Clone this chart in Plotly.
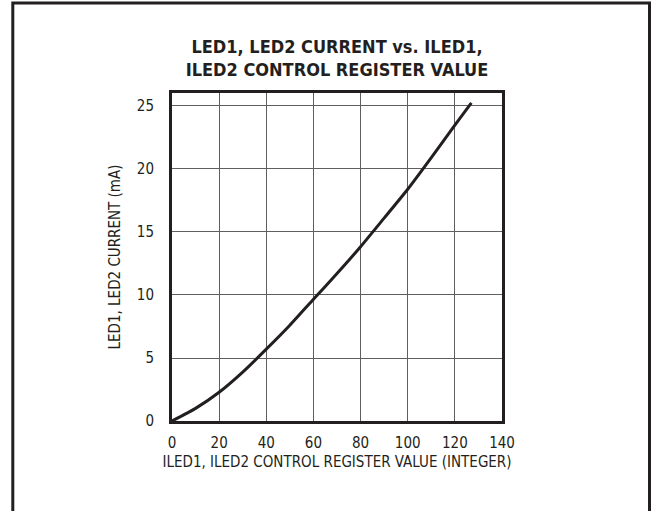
import plotly.graph_objects as go

# Data
register_value = [0, 10, 20, 30, 40, 50, 60, 70, 80, 90, 100, 110, 120, 127]
led_current_ma = [0, 1.0, 2.28, 3.88, 5.7, 7.6, 9.66, 11.7, 13.83, 16.1, 18.39, 20.9, 23.49, 25.25]

x_ticks = [0, 20, 40, 60, 80, 100, 120, 140]
y_ticks = [0, 5, 10, 15, 20, 25]

title_text = "<b>LED1, LED2 CURRENT vs. ILED1,<br>ILED2 CONTROL REGISTER VALUE</b>"
x_title = "ILED1, ILED2 CONTROL REGISTER VALUE (INTEGER)"
y_title = "LED1, LED2 CURRENT (mA)"

INK = "#231f20"
FONT = "DejaVu Sans Condensed, Liberation Sans Narrow, Arial Narrow, Roboto, sans-serif"

W, H = 651, 511
L, T = 172, 93
pw, ph = 330, 328
R, B = W - L - pw, H - T - ph

def px_x(p):
    return (p - L) / pw

def px_y(p):
    return (T + ph - p) / ph

fig = go.Figure()
fig.add_trace(go.Scatter(
    x=register_value, y=led_current_ma, mode="lines",
    line=dict(color=INK, width=3, shape="spline", smoothing=0.6),
    showlegend=False, hoverinfo="skip",
))

fig.update_layout(
    width=W, height=H,
    margin=dict(l=L, r=R, t=T, b=B),
    paper_bgcolor="white", plot_bgcolor="white",
    font=dict(family=FONT, color=INK, size=15),
    title=dict(text=title_text, x=0.5, xref="paper", xanchor="center",
               y=1 - 53 / H, yref="container", yanchor="middle",
               font=dict(family=FONT, size=18, color=INK)),
    xaxis=dict(range=[0, 140], tickvals=x_ticks, ticktext=[str(v) for v in x_ticks],
               showgrid=True, gridcolor="#5f5f5f", gridwidth=1,
               showline=True, linecolor=INK, linewidth=3, mirror=True,
               zeroline=False, ticks="", ticklabelstandoff=6,
               title=dict(text=x_title, font=dict(size=15, family=FONT, color=INK), standoff=6),
               fixedrange=True),
    yaxis=dict(range=[0, 26.03], tickvals=y_ticks, ticktext=[str(v) for v in y_ticks],
               showgrid=True, gridcolor="#5f5f5f", gridwidth=1,
               showline=True, linecolor=INK, linewidth=3, mirror=True,
               zeroline=False, ticks="", ticklabelstandoff=12,
               title=dict(text=y_title, font=dict(size=15, family=FONT, color=INK), standoff=13),
               fixedrange=True),
    shapes=[dict(type="rect", xref="paper", yref="paper",
                 x0=px_x(12.8), x1=px_x(649.5), y0=px_y(540), y1=px_y(3),
                 line=dict(color=INK, width=3), fillcolor="rgba(0,0,0,0)", layer="above")],
)

fig.write_html(
    "out.html",
    config={"displayModeBar": False},
    post_script="document.body.style.margin='0';document.body.style.overflow='hidden';",
)
